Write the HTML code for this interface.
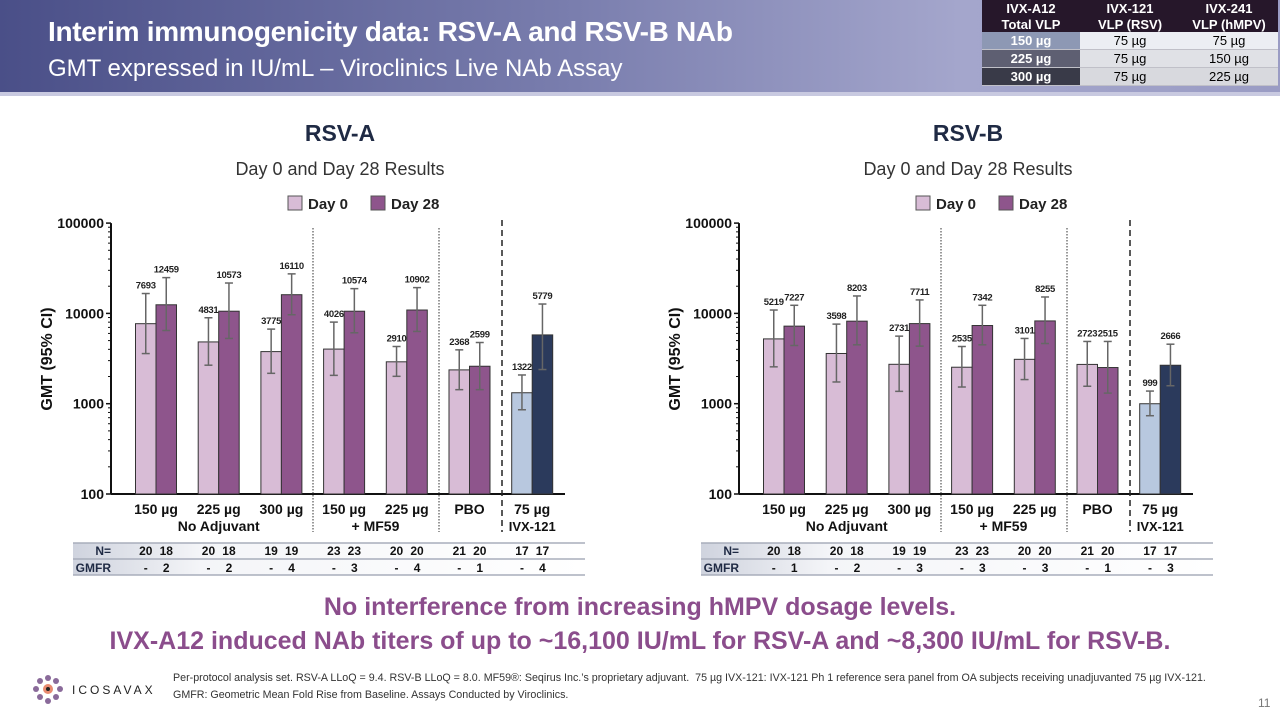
<!DOCTYPE html>
<html><head><meta charset="utf-8">
<style>
body{margin:0;width:1280px;height:720px;overflow:hidden;background:#fff;font-family:"Liberation Sans",sans-serif;position:relative}
.hdr{position:absolute;left:0;top:0;width:1280px;height:96px;background:linear-gradient(90deg,#4a4f88 0%,#7a7eae 45%,#a4a6cc 75%,#9a9cc4 100%);}
.hdr:after{content:"";position:absolute;left:0;right:0;bottom:0;height:4px;background:#c8c9e0}
.t1{position:absolute;left:48px;top:16px;color:#fff;font-weight:bold;font-size:28px;letter-spacing:-0.3px}
.t2{position:absolute;left:48px;top:55px;color:#fff;font-size:24px}
table.dose{position:absolute;left:982px;top:0;border-collapse:collapse;font-size:13px;text-align:center}
table.dose td{padding:0;height:17px;border-bottom:1px solid #c0c0c8}
table.dose .h td{background:#26172a;color:#fff;font-weight:bold;height:16px;border:none}
.msg{position:absolute;left:0;width:1280px;text-align:center;color:#8b4d8c;font-weight:bold;font-size:25px}
.foot{position:absolute;left:173px;top:670px;font-size:10.7px;color:#333;line-height:17px}
</style></head><body>
<div class="hdr"></div>
<div class="t1">Interim immunogenicity data: RSV-A and RSV-B NAb</div>
<div class="t2">GMT expressed in IU/mL – Viroclinics Live NAb Assay</div>
<table class="dose">
<tr class="h"><td style="width:98px">IVX-A12</td><td style="width:100px">IVX-121</td><td style="width:98px">IVX-241</td></tr>
<tr class="h"><td>Total VLP</td><td>VLP (RSV)</td><td>VLP (hMPV)</td></tr>
<tr><td style="background:#8d98b4;color:#fff;font-weight:bold">150 µg</td><td style="background:#eceef3">75 µg</td><td style="background:#eceef3">75 µg</td></tr>
<tr><td style="background:#5e5f72;color:#fff;font-weight:bold">225 µg</td><td style="background:#e0e1e6">75 µg</td><td style="background:#e0e1e6">150 µg</td></tr>
<tr><td style="background:#393a48;color:#fff;font-weight:bold">300 µg</td><td style="background:#d8d9de">75 µg</td><td style="background:#d8d9de">225 µg</td></tr>
</table>

<svg id="charts" width="1280" height="720" style="position:absolute;left:0;top:0" font-family="Liberation Sans, sans-serif"></svg>

<div class="msg" style="top:593px">No interference from increasing hMPV dosage levels.</div>
<div class="msg" style="top:627px">IVX-A12 induced NAb titers of up to ~16,100 IU/mL for RSV-A and ~8,300 IU/mL for RSV-B.</div>
<div class="foot">Per-protocol analysis set. RSV-A LLoQ = 9.4. RSV-B LLoQ = 8.0. MF59®: Seqirus Inc.’s proprietary adjuvant.&nbsp; 75 µg IVX-121: IVX-121 Ph 1 reference sera panel from OA subjects receiving unadjuvanted 75 µg IVX-121.<br>GMFR: Geometric Mean Fold Rise from Baseline. Assays Conducted by Viroclinics.</div>
<div style="position:absolute;left:1258px;top:696px;font-size:12px;color:#777">11</div>
<svg style="position:absolute;left:28px;top:670px" width="130" height="40">
<g fill="#8a6a9a">
<circle cx="20" cy="8" r="3"/><circle cx="28" cy="11" r="3"/><circle cx="32" cy="19" r="3"/><circle cx="28" cy="27" r="3"/><circle cx="20" cy="31" r="3"/><circle cx="12" cy="27" r="3"/><circle cx="8" cy="19" r="3"/><circle cx="12" cy="11" r="3"/></g>
<circle cx="20" cy="19" r="5" fill="#e88a70"/><circle cx="20" cy="19" r="2" fill="#222"/>
<text x="44" y="24" font-size="12" letter-spacing="3" fill="#222" font-family="Liberation Sans, sans-serif">ICOSAVAX</text>
</svg>

<script>
// RSV-A data
const categories = ["150 µg","225 µg","300 µg","150 µg","225 µg","PBO","75 µg"];
const rsvA_day0 = [7693,4831,3775,4026,2910,2368,1322];
const rsvA_day28 = [12459,10573,16110,10574,10902,2599,5779];
const rsvA_day0_lo = [3590,2670,2170,2060,2010,1430,857];
const rsvA_day0_hi = [16600,8950,6700,8010,4300,3950,2080];
const rsvA_day28_lo = [6470,5280,9660,6100,6310,1430,2390];
const rsvA_day28_hi = [24900,21700,27400,18800,19300,4760,12700];
const rsvA_N = [["20","18"],["20","18"],["19","19"],["23","23"],["20","20"],["21","20"],["17","17"]];
const rsvA_GMFR = ["2","2","4","3","4","1","4"];
// RSV-B data
const rsvB_day0 = [5219,3598,2731,2535,3101,2723,999];
const rsvB_day28 = [7227,8203,7711,7342,8255,2515,2666];
const rsvB_day0_lo = [2560,1740,1370,1530,1850,1560,736];
const rsvB_day0_hi = [10900,7610,5600,4300,5280,4890,1380];
const rsvB_day28_lo = [4410,4490,4340,4490,4640,1310,1580];
const rsvB_day28_hi = [12300,15600,14100,12300,15200,4890,4560];
const rsvB_N = [["20","18"],["20","18"],["19","19"],["23","23"],["20","20"],["21","20"],["17","17"]];
const rsvB_GMFR = ["1","2","3","3","3","1","3"];
const yTicks = [100,1000,10000,100000];

const NS="http://www.w3.org/2000/svg";
const svg=document.getElementById('charts');
function mk(tag,attrs,parent,text){const e=document.createElementNS(NS,tag);for(const k in attrs)e.setAttribute(k,attrs[k]);if(text!==undefined)e.textContent=text;(parent||svg).appendChild(e);return e;}

function drawChart(ox,title,d0,d28,d0lo,d0hi,d28lo,d28hi,N,G,key){
  const g=mk('g',{});
  
  
  const axX=ox+111, y0=494, dec=90.3;
  const y=v=>y0-dec*Math.log10(v/100);
  const cx=i=>ox+156+i*62.7;
  const bw=20.5;
  let t=mk('text',{x:ox+340,y:141,'text-anchor':'middle','font-size':23,'font-weight':'bold',fill:'#1f2a44'},g,title);
  
  t=mk('text',{x:ox+340,y:175,'text-anchor':'middle','font-size':18,fill:'#333'},g,'Day 0 and Day 28 Results');
  
  let l=mk('g',{},g);
  mk('rect',{x:ox+288,y:196,width:14,height:14,fill:'#d8bcd6',stroke:'#555'},l);
  mk('text',{x:ox+308,y:209,'font-size':15,'font-weight':'bold',fill:'#222'},l,'Day 0');
  l=mk('g',{},g);
  mk('rect',{x:ox+371,y:196,width:14,height:14,fill:'#8e558c',stroke:'#555'},l);
  mk('text',{x:ox+391,y:209,'font-size':15,'font-weight':'bold',fill:'#222'},l,'Day 28');
  mk('line',{x1:axX,y1:y(100000),x2:axX,y2:y0,stroke:'#111','stroke-width':2},g);
  yTicks.forEach(v=>{
    mk('line',{x1:axX-5,y1:y(v),x2:axX,y2:y(v),stroke:'#111','stroke-width':1.5},g);
    const tl=mk('text',{x:axX-7,y:y(v)+5,'text-anchor':'end','font-size':14,'font-weight':'bold',fill:'#111'},g,String(v));
    
  });
  for(let dcd=100;dcd<100000;dcd*=10)for(let m=2;m<10;m++)mk('line',{x1:axX-3,y1:y(dcd*m),x2:axX,y2:y(dcd*m),stroke:'#111','stroke-width':1},g);
  mk('line',{x1:axX,y1:y0,x2:ox+565,y2:y0,stroke:'#111','stroke-width':2},g);
  const yt=mk('text',{x:ox+52,y:359,'text-anchor':'middle','font-size':16,'font-weight':'bold',fill:'#111',transform:`rotate(-90 ${ox+52} 359)`},g,'GMT (95% CI)');
  
  mk('line',{x1:ox+313,y1:228,x2:ox+313,y2:532,stroke:'#333','stroke-dasharray':'1.5,1.5'},g);
  mk('line',{x1:ox+439,y1:228,x2:ox+439,y2:532,stroke:'#333','stroke-dasharray':'1.5,1.5'},g);
  mk('line',{x1:ox+502,y1:220,x2:ox+502,y2:532,stroke:'#222','stroke-dasharray':'6,4','stroke-width':1.5},g);
  categories.forEach((c,i)=>{
    const ivx=i===6;
    [[d0,d0lo,d0hi,-1,ivx?'#b8c8df':'#d8bcd6','day0'],[d28,d28lo,d28hi,0,ivx?'#2b3a5c':'#8e558c','day28']].forEach(s=>{
      const v=s[0][i],x=cx(i)+s[3]*bw;
      const r=mk('rect',{x:x,y:y(v),width:bw,height:y0-y(v),fill:s[4],stroke:'#333','stroke-width':1},g);
      
      const ex=x+bw/2,yl=y(s[1][i]),yh=y(s[2][i]);
      mk('line',{x1:ex,y1:yh,x2:ex,y2:yl,stroke:'#666','stroke-width':1.5},g);
      mk('line',{x1:ex-4,y1:yh,x2:ex+4,y2:yh,stroke:'#666','stroke-width':1.5},g);
      mk('line',{x1:ex-4,y1:yl,x2:ex+4,y2:yl,stroke:'#666','stroke-width':1.5},g);
      const lb=mk('text',{x:ex,y:yh-5,'text-anchor':'middle','font-size':9.5,'font-weight':'bold','letter-spacing':'-0.3',fill:'#222'},g,String(v));
      
    });
    const xl=mk('text',{x:cx(i),y:514,'text-anchor':'middle','font-size':14,'font-weight':'bold',fill:'#111'},g,c);
    
  });
  mk('text',{x:cx(1),y:531,'text-anchor':'middle','font-size':14,'font-weight':'bold',fill:'#111'},g,'No Adjuvant');
  mk('text',{x:(cx(3)+cx(4))/2,y:531,'text-anchor':'middle','font-size':14,'font-weight':'bold',fill:'#111'},g,'+ MF59');
  mk('text',{x:cx(6),y:531,'text-anchor':'middle','font-size':13,'font-weight':'bold',fill:'#111'},g,'IVX-121');
  const defs=mk('defs',{},g);
  const gr=mk('linearGradient',{id:'tg'+key},defs);
  mk('stop',{offset:'0','stop-color':'#cfd3de'},gr);mk('stop',{offset:'0.25','stop-color':'#f4f5f8'},gr);mk('stop',{offset:'1','stop-color':'#ffffff'},gr);
  const tb=mk('g',{},g);
  mk('rect',{x:ox+73,y:543,width:512,height:32,fill:`url(#tg${key})`},tb);
  [543,559,575].forEach(yy=>mk('line',{x1:ox+73,y1:yy,x2:ox+585,y2:yy,stroke:'#a8adbb','stroke-width':1.5},tb));
  mk('text',{x:ox+111,y:555,'text-anchor':'end','font-size':12,'font-weight':'bold',fill:'#1f2a44'},tb,'N=');
  mk('text',{x:ox+111,y:572,'text-anchor':'end','font-size':12,'font-weight':'bold',fill:'#1f2a44'},tb,'GMFR');
  categories.forEach((c,i)=>{
    mk('text',{x:cx(i)-bw/2,y:555,'text-anchor':'middle','font-size':12,'font-weight':'bold',fill:'#111'},tb,N[i][0]);
    mk('text',{x:cx(i)+bw/2,y:555,'text-anchor':'middle','font-size':12,'font-weight':'bold',fill:'#111'},tb,N[i][1]);
    mk('text',{x:cx(i)-bw/2,y:572,'text-anchor':'middle','font-size':12,'font-weight':'bold',fill:'#111'},tb,'-');
    mk('text',{x:cx(i)+bw/2,y:572,'text-anchor':'middle','font-size':12,'font-weight':'bold',fill:'#111'},tb,G[i]);
  });
}
drawChart(0,'RSV-A',rsvA_day0,rsvA_day28,rsvA_day0_lo,rsvA_day0_hi,rsvA_day28_lo,rsvA_day28_hi,rsvA_N,rsvA_GMFR,'rsv-a');
drawChart(628,'RSV-B',rsvB_day0,rsvB_day28,rsvB_day0_lo,rsvB_day0_hi,rsvB_day28_lo,rsvB_day28_hi,rsvB_N,rsvB_GMFR,'rsv-b');
</script>
</body></html>
